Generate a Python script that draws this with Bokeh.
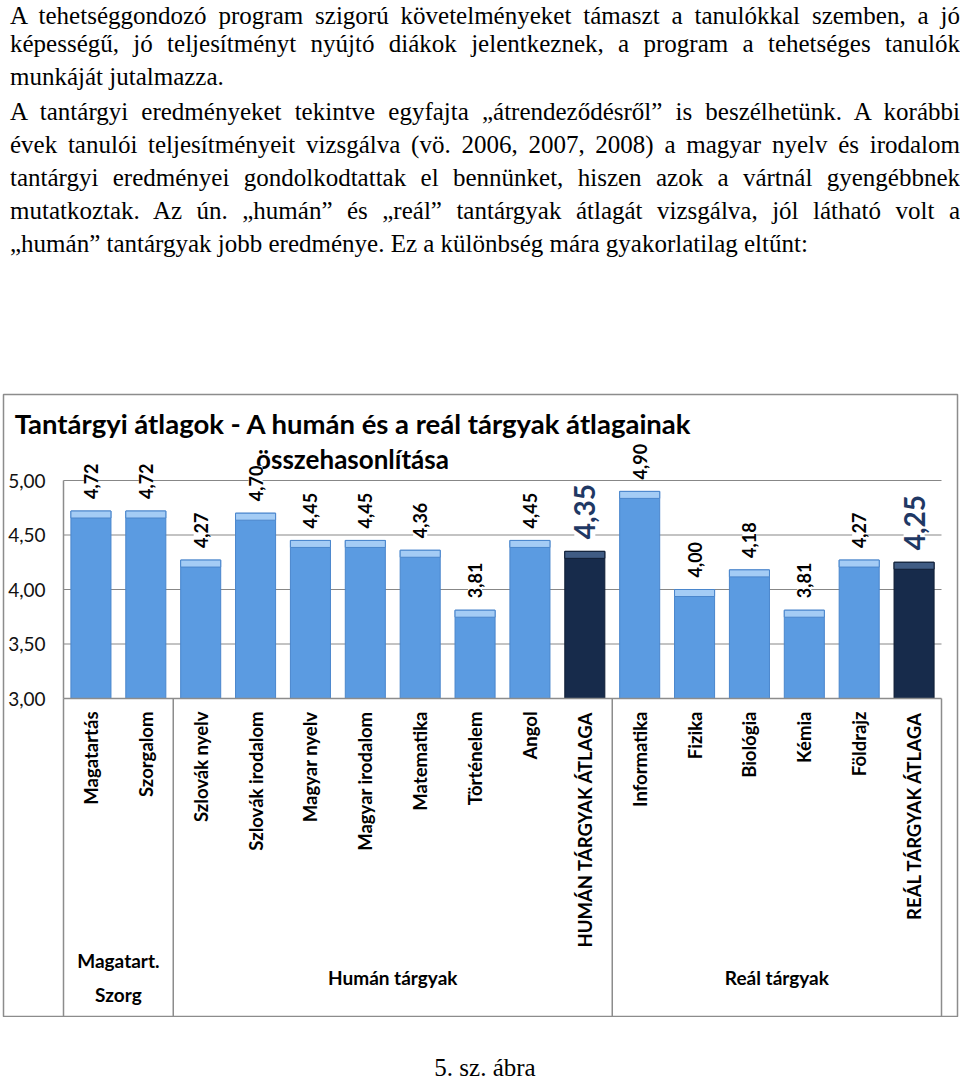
import math
from bokeh.plotting import figure
from bokeh.models import ColumnDataSource, Range1d, FixedTicker, Div, LinearAxis
from bokeh.layouts import column
from bokeh.core.properties import value
from bokeh.embed import file_html
from bokeh.resources import INLINE

# ---------------- data ----------------
categories = ["Magatartás", "Szorgalom", "Szlovák nyelv", "Szlovák irodalom", "Magyar nyelv",
              "Magyar irodalom", "Matematika", "Történelem", "Angol", "HUMÁN TÁRGYAK ÁTLAGA",
              "Informatika", "Fizika", "Biológia", "Kémia", "Földrajz", "REÁL TÁRGYAK ÁTLAGA"]
averages = [4.72, 4.72, 4.27, 4.70, 4.45, 4.45, 4.36, 3.81, 4.45, 4.35,
            4.90, 4.00, 4.18, 3.81, 4.27, 4.25]
is_group_average = [False] * 9 + [True] + [False] * 5 + [True]
group_names = ["Magatart.\nSzorg", "Humán tárgyak", "Reál tárgyak"]
group_sizes = [2, 8, 6]
y_ticks = [3.0, 3.5, 4.0, 4.5, 5.0]
y_tick_labels = ["3,00", "3,50", "4,00", "4,50", "5,00"]
title_lines = ["Tantárgyi átlagok - A humán és a reál tárgyak átlagainak", "összehasonlítása"]
caption = "5. sz. ábra"
paragraphs = [
    ["A tehetséggondozó program szigorú követelményeket támaszt a tanulókkal szemben, a jó",
     "képességű, jó teljesítményt nyújtó diákok jelentkeznek, a program a tehetséges tanulók",
     "munkáját jutalmazza."],
    ["A tantárgyi eredményeket tekintve egyfajta „átrendeződésről” is beszélhetünk. A korábbi",
     "évek tanulói teljesítményeit vizsgálva (vö. 2006, 2007, 2008) a magyar nyelv és irodalom",
     "tantárgyi eredményei gondolkodtattak el bennünket, hiszen azok a vártnál gyengébbnek",
     "mutatkoztak. Az ún. „humán” és „reál” tantárgyak átlagát vizsgálva, jól látható volt a",
     "„humán” tantárgyak jobb eredménye. Ez a különbség mára gyakorlatilag eltűnt:"],
]

# ---------------- layout constants (page pixels) ----------------
FIG_TOP = 391
FIG_H = 624
TOP_SHIFT = 5
FRAME_L, FRAME_R, FRAME_T, FRAME_B = 3, 957, 392, 1014
PLOT_L, PLOT_R = 63, 941
Y_BASE_PX, Y_TOP_PX = 696, 478
n = len(categories)
CAT_W = (PLOT_R - PLOT_L) / n
base = y_ticks[0]
UNIT = (Y_BASE_PX - Y_TOP_PX) / (y_ticks[-1] - y_ticks[0])


def px_x(px):
    return -0.5 + (px - PLOT_L) / CAT_W


def px_y(py):
    return base + (Y_BASE_PX - py) / UNIT


x_start, x_end = px_x(FRAME_L), px_x(FRAME_R)
y_start, y_end = px_y(FRAME_B), px_y(FRAME_T)

FONT = "Lato"
GRAY = "#8C8C8C"

p = figure(width=960, height=FIG_H, x_range=Range1d(x_start, x_end), y_range=Range1d(y_start, y_end),
           output_backend="svg", toolbar_location=None, x_axis_location=None, y_axis_location=None,
           min_border_left=FRAME_L, min_border_right=960 - FRAME_R,
           min_border_top=FRAME_T - FIG_TOP, min_border_bottom=FIG_TOP + FIG_H - FRAME_B)
for g in p.grid:
    g.visible = False
p.outline_line_color = GRAY
p.outline_line_width = 1.5
p.background_fill_color = "white"
p.border_fill_color = "white"

# gridlines (behind bars)
grid_src = ColumnDataSource(dict(y=y_ticks[1:]))
p.segment(x0=-0.5, x1=n - 0.5, y0="y", y1="y", source=grid_src, line_color="#878787", line_width=1)

# group separators below the category axis
bounds = [-0.5]
for s in group_sizes:
    bounds.append(bounds[-1] + s)
sep_src = ColumnDataSource(dict(x=bounds))
p.segment(x0="x", x1="x", y0=base, y1=y_start, source=sep_src, line_color=GRAY, line_width=1.5)

# bars
xs = list(range(n))
fill = ["#172B4B" if a else "#5B9BE1" for a in is_group_average]
edge = ["#0F1E36" if a else "#4A86CC" for a in is_group_average]
bevel = ["#405C84" if a else "#A4CCF5" for a in is_group_average]
BEVEL_H = 7 / UNIT
bar_src = ColumnDataSource(dict(x=xs, top=averages, fill=fill, edge=edge, bevel=bevel,
                                bevel_bottom=[v - BEVEL_H for v in averages]))
p.vbar(x="x", top="top", bottom=base, width=0.73, fill_color="fill", line_color="edge",
       line_width=1, source=bar_src)
p.vbar(x="x", top="top", bottom="bevel_bottom", width=0.73, fill_color="bevel", line_color="edge",
       line_width=1, source=bar_src)

# title
p.text(x=[px_x(353)], y=[px_y(421)], text=[title_lines[0]], text_align="center",
       text_baseline="alphabetic", text_font=value(FONT), text_font_style="bold",
       text_font_size="27.5px", text_color="#000000")
p.text(x=[px_x(352)], y=[px_y(456)], text=[title_lines[1]], text_align="center",
       text_baseline="alphabetic", text_font=value(FONT), text_font_style="bold",
       text_font_size="26px", text_color="#000000")

# data labels
LABEL_GAP = 12 / UNIT
norm = [i for i in xs if not is_group_average[i]]
avg = [i for i in xs if is_group_average[i]]
fmt = lambda v: f"{v:.2f}".replace(".", ",")
lab_src = ColumnDataSource(dict(x=norm, y=[averages[i] + LABEL_GAP for i in norm],
                                t=[fmt(averages[i]) for i in norm]))
p.text(x="x", y="y", text="t", angle=math.pi / 2, text_align="left", text_baseline="middle",
       text_font=value(FONT), text_font_style="bold", text_font_size="18px", text_color="#000000",
       background_fill_color="white", source=lab_src)
avg_src = ColumnDataSource(dict(x=avg, y=[averages[i] + LABEL_GAP for i in avg],
                                t=[fmt(averages[i]) for i in avg]))
p.text(x="x", y="y", text="t", angle=math.pi / 2, text_align="left", text_baseline="middle",
       text_font=value(FONT), text_font_style="bold", text_font_size="28px", text_color="#1F3864",
       background_fill_color="white", source=avg_src)

# group labels
centers = [(bounds[k] + bounds[k + 1]) / 2 for k in range(len(group_sizes))]
grp_src = ColumnDataSource(dict(x=centers, t=group_names))
p.text(x="x", y=px_y(975), text="t", text_align="center", text_baseline="middle",
       text_font=value(FONT), text_font_style="bold", text_font_size="19px",
       text_line_height=1.5, text_color="#000000", source=grp_src)

# axes
xaxis = LinearAxis(fixed_location=base, bounds=(-0.5, n - 0.5), ticker=FixedTicker(ticks=xs),
                   major_label_overrides={i: c for i, c in enumerate(categories)},
                   major_label_orientation=math.pi / 2, major_tick_in=0, major_tick_out=0,
                   minor_tick_in=0, minor_tick_out=0, axis_line_color=GRAY, axis_line_width=1.5,
                   major_label_standoff=13, major_label_text_font=FONT,
                   major_label_text_font_style="bold", major_label_text_font_size="18.5px",
                   major_label_text_color="#000000")
p.add_layout(xaxis, "below")
yaxis = LinearAxis(fixed_location=-0.5, bounds=(y_ticks[0], y_ticks[-1]), ticker=FixedTicker(ticks=y_ticks),
                   major_label_overrides=dict(zip(y_ticks, y_tick_labels)),
                   major_tick_in=0, major_tick_out=0, minor_tick_in=0, minor_tick_out=0,
                   axis_line_color=GRAY, axis_line_width=1.5, major_label_standoff=18,
                   major_label_text_font=FONT, major_label_text_font_size="19px",
                   major_label_text_color="#111111")
p.add_layout(yaxis, "left")

# paragraph & caption
rows = []
first = True
for k, para in enumerate(paragraphs):
    for j, line in enumerate(para):
        last = j == len(para) - 1
        align = "text-align:left;" if last else "text-align:justify;text-align-last:justify;"
        extra = ""
        if first:
            extra = f"line-height:28px;margin-bottom:{2 - TOP_SHIFT}px;"
            first = False
        elif k > 0 and j == 0:
            extra = "margin-top:2px;"
        rows.append(f'<div style="{align}{extra}">{line}</div>')
para_html = ('<div style="font-family:\'Liberation Serif\',\'Times New Roman\',serif;font-size:25px;'
             'line-height:33px;color:#000;width:950px;margin:0 0 0 5px;">' + "".join(rows) + "</div>")
div_para = Div(text=para_html, width=960, height=FIG_TOP - TOP_SHIFT)
cap_html = ('<div style="font-family:\'Liberation Serif\',\'Times New Roman\',serif;font-size:25px;'
            f'line-height:28px;text-align:center;width:960px;padding-top:32px;">{caption}</div>')
div_cap = Div(text=cap_html, width=960, height=1081 - FIG_TOP - FIG_H)

root = column(div_para, p, div_cap, margin=(-8 + TOP_SHIFT, 0, -8, 0))
open("out.html", "w").write(file_html(root, INLINE))
